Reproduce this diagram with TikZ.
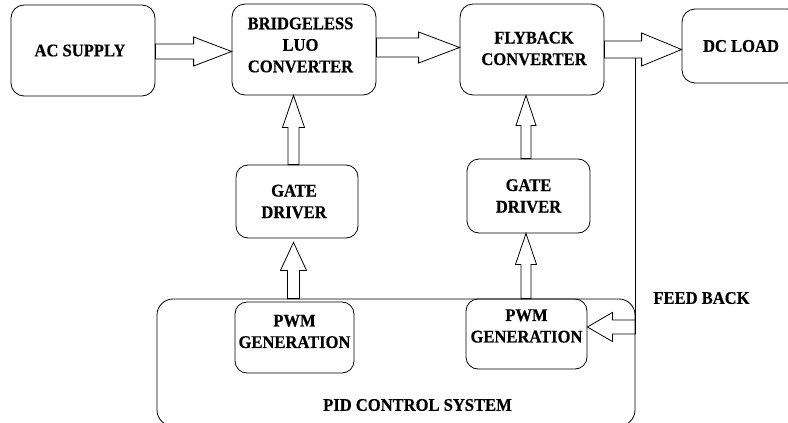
\documentclass[tikz,border=0pt]{standalone}
\usepackage{fontspec}
\setmainfont{Liberation Serif}[FakeStretch=0.93]
\newfontfamily\labelfont{Liberation Serif}[FakeStretch=0.93, FakeBold=0.5]
\usetikzlibrary{calc}

% Hollow block arrow from #1 to #2: shaft half-width #3, head half-width #4, head length #5
\newcommand{\blockarrow}[5]{%
  \draw[arrowline] let \p1=(#1), \p2=(#2),
      \n1={veclen(\x2-\x1,\y2-\y1)}, \n2={atan2(\y2-\y1,\x2-\x1)} in
    [shift={(\p1)}, rotate=\n2]
    (0pt,{#3*1pt}) -- ({(\n1-#5)*1pt},{#3*1pt}) -- ({(\n1-#5)*1pt},{#4*1pt})
    -- ({\n1*1pt},0pt) -- ({(\n1-#5)*1pt},{-#4*1pt}) -- ({(\n1-#5)*1pt},{-#3*1pt})
    -- (0pt,{-#3*1pt}) -- cycle;}

\tikzset{
  blk/.style={draw, line width=0.8pt, rounded corners=13pt, inner sep=0pt},
  lbl/.style={align=center, inner sep=0pt,
    font=\labelfont\fontsize{17.8}{21.5}\selectfont\bfseries},
  arrowline/.style={line width=0.8pt, line join=miter},
}

\begin{document}
\begin{tikzpicture}[x=1pt, y=-1pt]
\useasboundingbox (0,0) rectangle (788,423);

% top row
\node[blk, minimum width=144pt, minimum height=91pt,
      label={[lbl, xshift=-3pt]center:AC SUPPLY}] (ac) at (83,50.5) {};
\node[blk, minimum width=144pt, minimum height=91pt,
      label={[lbl, xshift=-3.5pt, yshift=4.5pt]center:BRIDGELESS\\LUO\\CONVERTER}] (bl) at (304,49.5) {};
\node[blk, minimum width=144pt, minimum height=91pt,
      label={[lbl, xshift=2pt, yshift=1pt]center:FLYBACK\\CONVERTER}] (fb) at (532,49.5) {};
\node[blk, minimum width=118pt, minimum height=74pt,
      label={[lbl]center:DC LOAD}] (dc) at (741,46) {};

% gate drivers
\node[blk, rounded corners=12pt, minimum width=122pt, minimum height=73pt,
      label={[lbl, xshift=-3pt]center:GATE\\DRIVER}] (gd1) at (297,201.5) {};
\node[blk, rounded corners=12pt, minimum width=123pt, minimum height=74pt,
      label={[lbl]center:GATE\\DRIVER}] (gd2) at (528.5,196) {};

% PID control system
\node[blk, rounded corners=16pt, minimum width=478pt, minimum height=127pt] (pid) at (396,362.5) {};
\node[lbl] (pidt) at (417.5,405) {PID CONTROL SYSTEM};

\node[blk, rounded corners=12pt, minimum width=119pt, minimum height=71pt,
      label={[lbl, yshift=6pt]center:PWM\\GENERATION}] (pwm1) at (294.5,337.5) {};
\node[blk, rounded corners=12pt, minimum width=121pt, minimum height=70pt,
      label={[lbl, yshift=8pt]center:PWM\\GENERATION}] (pwm2) at (526.5,334) {};

\node[lbl] (fbt) at (701.5,298) {FEED BACK};

% power path
\coordinate (a1s) at ([yshift=-1pt]ac.east);
\blockarrow{a1s}{bl.west |- a1s}{7.5}{14.5}{38}
\coordinate (a2s) at ([yshift=2pt]bl.east);
\blockarrow{a2s}{fb.west |- a2s}{9.5}{15.5}{41}
\coordinate (a3s) at (fb.east);
\blockarrow{a3s}{dc.west |- a3s}{8.5}{16.5}{40}

% drive signals
\coordinate (a4s) at ([xshift=-3.5pt]gd1.north);
\blockarrow{a4s}{bl.south -| a4s}{5.5}{11}{32}
\coordinate (a5s) at (pid.north -| a4s);
\blockarrow{a5s}{$(gd1.south -| a5s)+(0,4)$}{6}{13}{28}
\coordinate (a6s) at ([xshift=-2.5pt]gd2.north);
\blockarrow{a6s}{fb.south -| a6s}{5}{10}{30}
\coordinate (a7s) at (pwm2.north -| a6s);
\blockarrow{a7s}{gd2.south -| a7s}{5}{10.5}{31}

% feedback path
\coordinate (tap) at ([yshift=-8.5pt]a3s -| pid.east);
\coordinate (a8s) at ([yshift=7pt]pwm2.east -| pid.east);
\draw[arrowline] (tap) -- (a8s);
\blockarrow{a8s}{pwm2.east |- a8s}{7}{14.5}{25}
\end{tikzpicture}
\end{document}
